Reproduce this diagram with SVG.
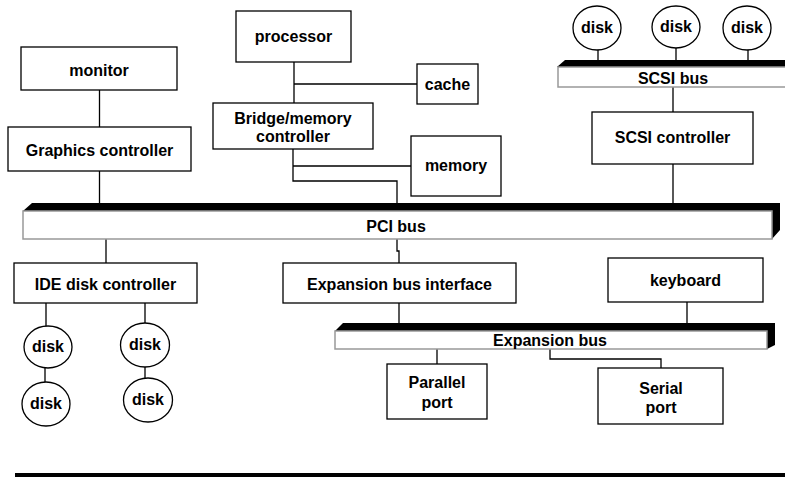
<svg xmlns="http://www.w3.org/2000/svg" width="785" height="479" viewBox="0 0 785 479">
<style>
.box{fill:#fff;stroke:#000;stroke-width:1.3}
.disk{fill:#fff;stroke:#000;stroke-width:1.3}
.t{font-family:"Liberation Sans",Arial,sans-serif;font-weight:bold;font-size:16px;fill:#000;text-anchor:middle}
.ln{fill:none;stroke:#000;stroke-width:1.3}
.busf{fill:#fff;stroke:#999;stroke-width:1.5}
.bust{fill:#000}
</style>
<rect x="0" y="0" width="785" height="479" fill="#fff"/>
<g id="connectors">
<path class="ln" d="M99.5,90V127M99.5,171V203"/>
<path class="ln" d="M294,62V103M294,84H417"/>
<path class="ln" d="M293,149V181H397V203M293,166H411"/>
<path class="ln" d="M598,50V60M676,48V60M748,50V60"/>
<path class="ln" d="M673,87V112M673,164V203"/>
<path class="ln" d="M106,239V263"/>
<path class="ln" d="M397,239V251H399V263"/>
<path class="ln" d="M46,303V326M145,303V323M45,368V382M145,367V378"/>
<path class="ln" d="M399,303V323M687,302V323"/>
<path class="ln" d="M437,349V364M550,349V359H661V368"/>
</g>
<g id="scsi-bus">
<polygon class="bust" points="557,67 565,60 785,60 785,67"/>
<rect class="busf" x="558" y="67" width="240" height="20"/>
<text class="t" x="673" y="84">SCSI bus</text>
</g>
<g id="pci-bus">
<polygon class="bust" points="23,211 32,203 780,203 780,230 772,239 772,211"/>
<rect class="busf" x="23" y="211" width="749" height="28"/>
<text class="t" x="396" y="232">PCI bus</text>
</g>
<g id="expansion-bus">
<polygon class="bust" points="335,331 343,323 775,323 775,345 767,349 767,331"/>
<rect class="busf" x="335" y="331" width="432" height="18"/>
<text class="t" x="550" y="346">Expansion bus</text>
</g>
<g id="monitor"><rect class="box" x="21" y="47" width="156" height="43"/><text class="t" x="99" y="76">monitor</text></g>
<g id="graphics-controller"><rect class="box" x="8" y="127" width="183" height="44"/><text class="t" x="99.5" y="156">Graphics controller</text></g>
<g id="processor"><rect class="box" x="236" y="11" width="115" height="51"/><text class="t" x="293.5" y="42">processor</text></g>
<g id="cache"><rect class="box" x="417" y="64" width="61" height="40"/><text class="t" x="447.5" y="90">cache</text></g>
<g id="bridge"><rect class="box" x="213" y="103" width="160" height="46"/><text class="t" x="293" y="124">Bridge/memory</text><text class="t" x="293" y="142">controller</text></g>
<g id="memory"><rect class="box" x="411" y="136" width="90" height="60"/><text class="t" x="456" y="171">memory</text></g>
<g id="scsi-disk-1"><ellipse class="disk" cx="597" cy="28" rx="24" ry="22"/><text class="t" x="597" y="33">disk</text></g>
<g id="scsi-disk-2"><ellipse class="disk" cx="676" cy="27" rx="24" ry="21"/><text class="t" x="676" y="32">disk</text></g>
<g id="scsi-disk-3"><ellipse class="disk" cx="747" cy="28" rx="24" ry="22"/><text class="t" x="747" y="33">disk</text></g>
<g id="scsi-controller"><rect class="box" x="592" y="112" width="161" height="52"/><text class="t" x="672.5" y="143">SCSI controller</text></g>
<g id="ide-controller"><rect class="box" x="14" y="263" width="183" height="40"/><text class="t" x="105.5" y="289.5">IDE disk controller</text></g>
<g id="expansion-interface"><rect class="box" x="283" y="263" width="233" height="40"/><text class="t" x="399.5" y="289.5">Expansion bus interface</text></g>
<g id="keyboard"><rect class="box" x="608" y="258" width="155" height="44"/><text class="t" x="685.5" y="286">keyboard</text></g>
<g id="ide-disk-a"><ellipse class="disk" cx="48" cy="347" rx="24" ry="21"/><text class="t" x="48" y="352">disk</text></g>
<g id="ide-disk-b"><ellipse class="disk" cx="46" cy="404" rx="24" ry="22"/><text class="t" x="46" y="409">disk</text></g>
<g id="ide-disk-c"><ellipse class="disk" cx="145" cy="345" rx="24.5" ry="22"/><text class="t" x="145" y="350">disk</text></g>
<g id="ide-disk-d"><ellipse class="disk" cx="148" cy="400" rx="24.5" ry="22"/><text class="t" x="148" y="405">disk</text></g>
<g id="parallel-port"><rect class="box" x="387" y="364" width="100" height="55"/><text class="t" x="437" y="388">Parallel</text><text class="t" x="437" y="408">port</text></g>
<g id="serial-port"><rect class="box" x="598" y="368" width="125" height="56"/><text class="t" x="661" y="394">Serial</text><text class="t" x="661" y="413">port</text></g>
<rect x="15" y="473" width="770" height="4" fill="#000"/>
</svg>
